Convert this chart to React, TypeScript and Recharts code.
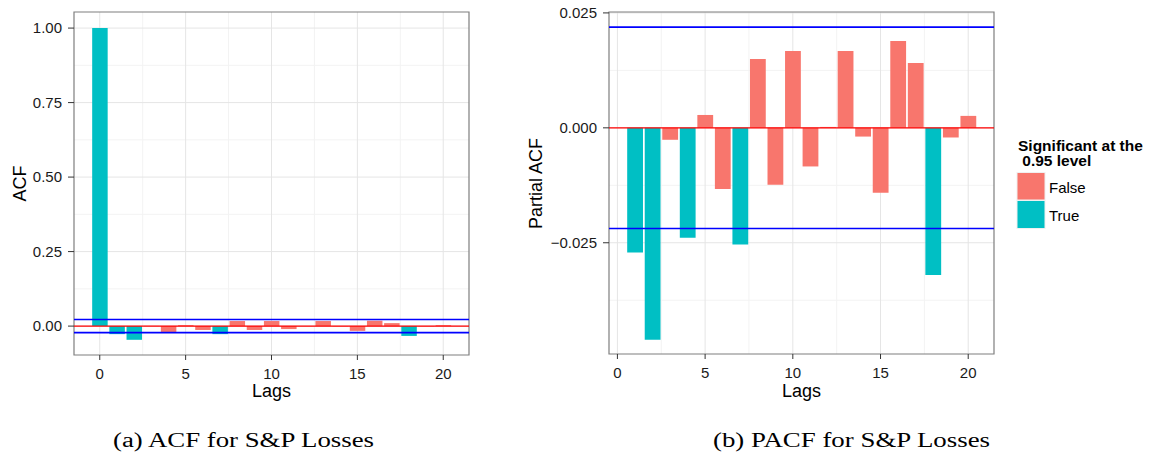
import React from 'react';
import { BarChart, Bar, XAxis, YAxis, CartesianGrid, ReferenceLine, ReferenceArea, Cell } from 'recharts';

// ACF, lags 0..20
const acfLags = [0, 1, 2, 3, 4, 5, 6, 7, 8, 9, 10, 11, 12, 13, 14, 15, 16, 17, 18, 19, 20];
const acfValues = [1.0, -0.027, -0.046, 0.0005, -0.02, 0.003, -0.013, -0.027, 0.017, -0.013, 0.017,
  -0.01, 0.0004, 0.017, -0.001, -0.016, 0.018, 0.01, -0.033, -0.001, 0.003];
const acfSignificant = [true, true, true, false, false, false, false, true, false, false, false,
  false, false, false, false, false, false, false, true, false, false];

// PACF, lags 1..20
const pacfLags = [1, 2, 3, 4, 5, 6, 7, 8, 9, 10, 11, 12, 13, 14, 15, 16, 17, 18, 19, 20];
const pacfValues = [-0.0271, -0.0461, -0.0026, -0.0239, 0.0028, -0.0133, -0.0254, 0.015, -0.0124, 0.0167,
  -0.0084, 0.0002, 0.0167, -0.0019, -0.0141, 0.0189, 0.0141, -0.032, -0.0021, 0.0026];
const pacfSignificant = [true, true, false, true, false, false, true, false, false, false,
  false, false, false, false, false, false, false, true, false, false];

const confBound = 0.0219;

const lagTicks = [0, 5, 10, 15, 20];
const lagMinor = [2.5, 7.5, 12.5, 17.5];
const acfTicks = [0, 0.25, 0.5, 0.75, 1];
const acfMinor = [0.125, 0.375, 0.625, 0.875];
const pacfTicks = [-0.025, 0, 0.025];
const pacfMinor = [-0.0375, -0.0125, 0.0125];

const legendLabels = ['False', 'True'];

const FALSE_COL = '#F8766D';
const TRUE_COL = '#00BFC4';

const acfData = acfLags.map((lag, i) => ({ lag, value: acfValues[i], sig: acfSignificant[i] }));
const pacfData = pacfLags.map((lag, i) => ({ lag, value: pacfValues[i], sig: pacfSignificant[i] }));

const fmt = (digits: number) => (v: number) =>
  (v < 0 ? '\u2212' : '') + Math.abs(v).toFixed(digits);

const tickStyle = { fill: '#1a1a1a', fontSize: 15, fontFamily: 'Liberation Sans, Arial, sans-serif' };

interface PanelProps {
  data: { lag: number; value: number; sig: boolean }[];
  xDomain: [number, number];
  yDomain: [number, number];
  yTicks: number[];
  yMinor: number[];
  digits: number;
  yAxisWidth: number;
  width: number;
  left: number;
  margin: { top: number; right: number; bottom: number; left: number };
  xAxisHeight: number;
  barSize: number;
}

const Panel: React.FC<PanelProps> = (p) => (
  <BarChart
    width={p.width}
    height={400}
    data={p.data}
    margin={p.margin}
    style={{ position: 'absolute', left: p.left, top: 0 }}
  >
    <CartesianGrid stroke="#f3f3f3" verticalValues={lagMinor} horizontalValues={p.yMinor} />
    <CartesianGrid stroke="#e5e5e5" verticalValues={lagTicks} horizontalValues={p.yTicks} />
    <XAxis
      dataKey="lag"
      type="number"
      domain={p.xDomain}
      ticks={lagTicks}
      allowDataOverflow
      height={p.xAxisHeight}
      axisLine={false}
      tickLine={{ stroke: '#333', strokeWidth: 1 }}
      tickSize={5}
      tickMargin={8}
      tick={tickStyle}
      interval={0}
    />
    <YAxis
      type="number"
      domain={p.yDomain}
      ticks={p.yTicks}
      allowDataOverflow
      width={p.yAxisWidth}
      axisLine={false}
      tickLine={{ stroke: '#333', strokeWidth: 1 }}
      tickSize={6}
      tickMargin={6}
      tick={tickStyle}
      tickFormatter={fmt(p.digits)}
      interval={0}
    />
    <Bar dataKey="value" barSize={p.barSize} isAnimationActive={false}>
      {p.data.map((d, i) => (
        <Cell key={i} fill={d.sig ? TRUE_COL : FALSE_COL} />
      ))}
    </Bar>
    <ReferenceLine y={0} stroke="#ff0000" strokeWidth={1.2} />
    <ReferenceLine y={confBound} stroke="#0000ff" strokeWidth={1.6} />
    <ReferenceLine y={-confBound} stroke="#0000ff" strokeWidth={1.6} />
    <ReferenceArea
      x1={p.xDomain[0]}
      x2={p.xDomain[1]}
      y1={p.yDomain[0]}
      y2={p.yDomain[1]}
      fill="none"
      fillOpacity={0}
      stroke="#7f7f7f"
      strokeWidth={1.2}
    />
  </BarChart>
);

const sans = 'Liberation Sans, Arial, sans-serif';
const serif = 'Liberation Serif, DejaVu Serif, serif';

export default function App() {
  return (
    <div style={{ position: 'absolute', left: 0, top: 0, width: 1157, height: 455, background: '#fff', fontFamily: sans }}>
      <Panel
        data={acfData}
        xDomain={[-1.5, 21.5]}
        yDomain={[-0.097, 1.054]}
        yTicks={acfTicks}
        yMinor={acfMinor}
        digits={2}
        yAxisWidth={74}
        width={480}
        left={0}
        margin={{ top: 12, right: 11, bottom: 0, left: 0 }}
        xAxisHeight={45}
        barSize={15.5}
      />
      <Panel
        data={pacfData}
        xDomain={[-0.48, 21.47]}
        yDomain={[-0.0492, 0.0252]}
        yTicks={pacfTicks}
        yMinor={pacfMinor}
        digits={3}
        yAxisWidth={79}
        width={470}
        left={530}
        margin={{ top: 12, right: 6, bottom: 0, left: 0 }}
        xAxisHeight={46}
        barSize={15.8}
      />
      <svg width={1157} height={455} style={{ position: 'absolute', left: 0, top: 0, pointerEvents: 'none' }}>
        <text x={26} y={183.5} transform="rotate(-90 26 183.5)" textAnchor="middle" fontSize={18} fontFamily={sans} fill="#000">ACF</text>
        <text x={271.5} y={396.5} textAnchor="middle" fontSize={18} fontFamily={sans} fill="#000">Lags</text>
        <text x={542} y={183.5} transform="rotate(-90 542 183.5)" textAnchor="middle" fontSize={18} fontFamily={sans} fill="#000">Partial ACF</text>
        <text x={801.5} y={396.5} textAnchor="middle" fontSize={18} fontFamily={sans} fill="#000">Lags</text>

        <text x={1018} y={150.5} fontSize={15.5} fontWeight="bold" fontFamily={sans} fill="#000">Significant at the</text>
        <text x={1018} y={166} fontSize={15.5} fontWeight="bold" fontFamily={sans} fill="#000" xmlSpace="preserve"> 0.95 level</text>
        <rect x={1017} y={172.5} width={28} height={27.5} fill={FALSE_COL} stroke="#f0f0f0" />
        <rect x={1017} y={200.5} width={28} height={28} fill={TRUE_COL} stroke="#f0f0f0" />
        <text x={1049} y={193.3} fontSize={15} fontFamily={sans} fill="#000">{legendLabels[0]}</text>
        <text x={1049} y={220.7} fontSize={15} fontFamily={sans} fill="#000">{legendLabels[1]}</text>

        <text x={113} y={446.5} fontSize={20} fontFamily={serif} fill="#000" textLength={261} lengthAdjust="spacingAndGlyphs">(a) ACF for S&amp;P Losses</text>
        <text x={713} y={446.5} fontSize={20} fontFamily={serif} fill="#000" textLength={277} lengthAdjust="spacingAndGlyphs">(b) PACF for S&amp;P Losses</text>
      </svg>
    </div>
  );
}
